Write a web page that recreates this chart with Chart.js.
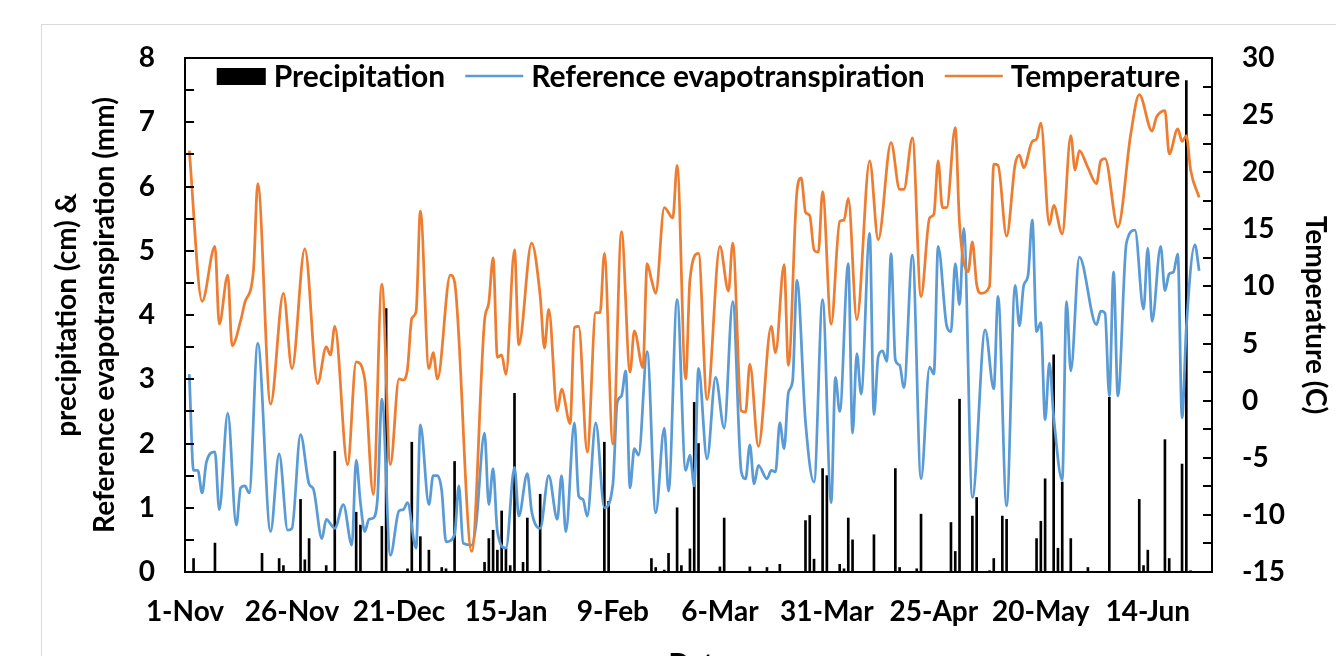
<!DOCTYPE html>
<html>
<head>
    <title>Precipitation, Reference Evapotranspiration and Temperature</title>
    <script src="https://cdn.jsdelivr.net/npm/chart.js"></script>
    <style>
        body { margin: 0; overflow: hidden; background: #fff; }
        #frame { position: absolute; left: 41px; top: 24px; width: 1400px; height: 700px; border: 1px solid #d9d9d9; }
        #weather-chart { position: absolute; left: 0; top: 0; }
    </style>
</head>
<body>
    <div id="frame"></div>
    <canvas id="weather-chart" width="1336" height="700"></canvas>

    <script>
        // Axis labels, one every 25 days counted from 1 Nov
        const tickDays = [0, 25, 50, 75, 100, 125, 150, 175, 200, 225];
        const tickLabels = ['1-Nov', '26-Nov', '21-Dec', '15-Jan', '9-Feb', '6-Mar', '31-Mar', '25-Apr', '20-May', '14-Jun'];

        // Reference evapotranspiration (mm), day number since 1 Nov
        const etDays = [
            1, 2, 3, 4, 5, 7, 8, 10, 12, 13,
            14, 15, 17, 20, 22, 24, 25, 27, 29, 30,
            32, 33, 35, 37, 39, 40, 41, 42, 43, 44,
            45, 46, 48, 50, 51, 52, 54, 55, 57, 58,
            59, 60, 61, 63, 64, 65, 67, 68, 70, 71,
            72, 73, 75, 77, 78, 80, 81, 83, 85, 87,
            88, 89, 91, 92, 93, 94, 96, 98, 100, 101,
            102, 103, 104, 105, 106, 108, 110, 112, 113, 115,
            117, 118, 119, 120, 122, 124, 126, 128, 130, 131,
            132, 133, 134, 136, 137, 138, 139, 140, 141, 142,
            143, 145, 147, 149, 151, 152, 153, 155, 156, 157,
            158, 160, 161, 162, 163, 164, 165, 166, 167, 168,
            170, 172, 174, 175, 176, 178, 179, 180, 181, 182,
            184, 187, 189, 190, 192, 194, 195, 196, 197, 198,
            199, 200, 201, 202, 203, 205, 206, 207, 209, 213,
            214, 215, 216, 217, 218, 220, 222, 224, 225, 226,
            228, 229, 230, 231, 232, 233, 234, 236, 237
        ];
        const etValues = [
            3.08, 1.58, 1.58, 1.23, 1.71, 1.87, 0.97, 2.47, 0.73, 1.31,
            1.34, 1.23, 3.56, 0.63, 1.84, 0.65, 0.68, 2.14, 1.37, 1.29,
            0.52, 0.82, 0.68, 1.05, 0.42, 1.74, 1.08, 0.63, 0.82, 0.84,
            1.16, 2.69, 0.26, 0.95, 0.97, 1.08, 0.37, 2.29, 1.05, 1.50,
            1.50, 1.26, 0.47, 0.58, 1.34, 0.45, 0.42, 0.73, 2.16, 1.05,
            1.61, 0.63, 0.37, 1.63, 0.87, 1.53, 0.95, 0.68, 1.50, 0.82,
            1.50, 0.63, 2.32, 1.18, 1.13, 0.87, 2.32, 1.00, 1.37, 2.64,
            2.74, 3.13, 1.31, 1.92, 1.82, 3.43, 0.92, 2.24, 1.26, 4.24,
            1.58, 1.82, 1.34, 3.17, 1.76, 3.03, 2.24, 4.21, 1.56, 1.45,
            1.98, 1.37, 1.66, 1.45, 1.58, 1.56, 2.32, 1.92, 2.79, 2.98,
            4.54, 2.34, 1.40, 4.24, 1.08, 3.03, 2.50, 4.80, 2.16, 3.40,
            2.77, 5.27, 2.45, 3.35, 3.44, 3.28, 4.95, 3.30, 3.22, 2.87,
            4.93, 1.45, 3.19, 3.08, 5.07, 3.83, 3.74, 4.80, 4.16, 5.35,
            1.16, 3.77, 2.85, 4.29, 1.03, 4.46, 3.83, 4.46, 4.61, 5.48,
            3.74, 3.88, 2.37, 3.25, 2.42, 1.43, 4.21, 3.13, 4.90, 3.85,
            4.06, 4.03, 2.74, 4.67, 2.74, 5.12, 5.32, 4.09, 5.04, 3.90,
            5.07, 4.38, 4.64, 4.67, 4.95, 2.40, 3.80, 5.09, 4.69
        ];

        // Air temperature (C)
        const tempDays = [
            1, 4, 7, 8, 10, 11, 13, 14, 16, 17,
            20, 23, 25, 28, 31, 33, 34, 35, 38, 40,
            42, 44, 46, 48, 50, 51, 52, 53, 54, 55,
            57, 58, 59, 62, 63, 67, 70, 71, 72, 73,
            74, 75, 77, 78, 81, 83, 84, 85, 87, 88,
            90, 91, 92, 94, 96, 97, 98, 100, 102, 104,
            105, 107, 108, 109, 110, 112, 114, 115, 117, 118,
            120, 122, 125, 127, 128, 130, 131, 132, 134, 137,
            138, 140, 141, 143, 144, 145, 146, 147, 148, 149,
            151, 153, 154, 155, 157, 160, 162, 165, 167, 168,
            170, 172, 174, 175, 176, 177, 178, 180, 181, 183,
            184, 185, 186, 188, 189, 190, 192, 194, 195, 196,
            198, 199, 200, 202, 203, 205, 207, 208, 209, 211,
            213, 214, 215, 218, 221, 223, 226, 227, 229, 230,
            232, 233, 234, 235, 237
        ];
        const tempValues = [
            21.9, 8.7, 13.5, 6.7, 11.0, 4.8, 7.0, 8.6, 11.4, 19.0,
            -0.3, 9.4, 2.8, 13.3, 1.5, 4.7, 4.0, 6.5, -5.6, 3.4,
            1.9, -8.2, 10.2, -5.6, 1.9, 1.8, 2.8, 7.2, 7.8, 16.6,
            2.8, 4.2, 1.9, 11.0, 10.4, -13.2, 7.0, 8.6, 12.5, 3.8,
            4.0, 2.3, 13.2, 4.9, 13.8, 9.2, 4.6, 8.0, -0.9, 1.0,
            -2.0, 6.4, 6.5, -4.5, 7.7, 7.7, 12.9, -3.8, 14.8, 2.5,
            6.1, 2.9, 12.0, 10.6, 9.4, 16.9, 16.0, 20.6, 1.9, 10.6,
            12.9, 0.1, 13.5, 9.6, 13.8, -0.9, -1.0, 3.2, -4.0, 6.5,
            4.2, 11.9, 3.1, 18.3, 19.5, 16.5, 16.2, 13.2, 13.0, 18.3,
            6.7, 15.7, 15.8, 17.7, 7.1, 21.0, 14.1, 22.6, 18.5, 18.5,
            23.0, 9.1, 16.0, 16.3, 21.0, 16.9, 16.9, 23.9, 15.5, 11.3,
            13.9, 10.2, 9.4, 10.0, 20.7, 20.6, 14.4, 20.7, 21.5, 20.4,
            22.7, 22.9, 24.3, 15.4, 17.1, 14.6, 23.2, 20.2, 21.9, 20.4,
            19.0, 21.0, 21.2, 15.2, 23.3, 26.8, 23.6, 24.8, 25.4, 21.6,
            23.8, 22.7, 23.2, 20.2, 17.8
        ];

        // Precipitation (cm), rain days only
        const rainDays = [
            2, 7, 18, 22, 23, 27, 28, 29, 33, 35,
            40, 41, 46, 47, 52, 53, 55, 57, 60, 61,
            63, 70, 71, 72, 73, 74, 75, 76, 77, 79,
            80, 83, 85, 98, 99, 109, 110, 112, 113, 115,
            116, 118, 119, 120, 125, 126, 132, 136, 139, 145,
            146, 147, 149, 150, 153, 154, 155, 156, 161, 166,
            167, 171, 172, 179, 180, 181, 184, 185, 188, 189,
            191, 192, 199, 200, 201, 203, 204, 205, 207, 211,
            216, 223, 224, 225, 229, 230, 233, 234, 235
        ];
        const rainValues = [
            0.21, 0.45, 0.29, 0.21, 0.10, 1.13, 0.19, 0.52, 0.10, 1.88,
            0.93, 0.73, 0.71, 4.10, 0.05, 2.02, 0.55, 0.34, 0.07, 0.05,
            1.72, 0.15, 0.52, 0.65, 0.34, 0.95, 0.37, 0.10, 2.78, 0.15,
            0.84, 1.21, 0.02, 2.02, 1.10, 0.21, 0.07, 0.03, 0.29, 1.00,
            0.10, 0.36, 2.64, 2.00, 0.08, 0.84, 0.08, 0.07, 0.12, 0.80,
            0.88, 0.20, 1.61, 1.50, 0.12, 0.05, 0.84, 0.50, 0.58, 1.61,
            0.07, 0.05, 0.90, 0.77, 0.32, 2.69, 0.87, 1.16, 0.02, 0.21,
            0.87, 0.82, 0.52, 0.79, 1.45, 3.38, 0.37, 1.40, 0.52, 0.07,
            2.72, 1.13, 0.10, 0.34, 2.06, 0.21, 1.68, 7.65, 0.02
        ];

        const FONT = 'Lato';
        const boldFont = { family: FONT, size: 28, weight: 'bold' };

        const toPoints = (days, values) => days.map((d, i) => ({ x: d, y: values[i] }));

        // Black frame round the plot with short inward ticks on both value axes
        const plotFrame = {
            id: 'plotFrame',
            afterDraw(chart) {
                const { ctx, chartArea: a, scales } = chart;
                ctx.save();
                ctx.strokeStyle = '#000';
                ctx.lineWidth = 2;
                ctx.strokeRect(a.left, a.top, a.right - a.left, a.bottom - a.top);
                ctx.beginPath();
                for (let v = 0; v <= 8; v += 0.5) {
                    const y = Math.round(scales.y.getPixelForValue(v));
                    ctx.moveTo(a.left, y);
                    ctx.lineTo(a.left + 9, y);
                }
                for (let v = -15; v <= 30; v += 2.5) {
                    const y = Math.round(scales.y1.getPixelForValue(v));
                    ctx.moveTo(a.right, y);
                    ctx.lineTo(a.right - 9, y);
                }
                ctx.stroke();
                ctx.restore();
            }
        };

        // Legend drawn across the top inside the plot area
        const insideLegend = {
            id: 'insideLegend',
            afterDraw(chart) {
                const { ctx, chartArea: a } = chart;
                const gap = 8, spacing = 20;
                ctx.save();
                ctx.font = 'bold 30px ' + FONT;
                ctx.textBaseline = 'middle';
                const items = chart.data.datasets.map(ds => {
                    const sampleW = ds.type === 'bar' ? 49 : 58;
                    return { ds: ds, sampleW: sampleW, w: sampleW + gap + ctx.measureText(ds.label).width };
                });
                const total = items.reduce((s, it) => s + it.w, 0) + spacing * (items.length - 1);
                let x = (a.left + a.right) / 2 - total / 2;
                const y = a.top + 18;
                items.forEach(it => {
                    if (it.ds.type === 'bar') {
                        ctx.fillStyle = it.ds.backgroundColor;
                        ctx.fillRect(x, y - 8, it.sampleW, 17);
                    } else {
                        ctx.strokeStyle = it.ds.borderColor;
                        ctx.lineWidth = 2.5;
                        ctx.beginPath();
                        ctx.moveTo(x, y);
                        ctx.lineTo(x + it.sampleW, y);
                        ctx.stroke();
                    }
                    ctx.fillStyle = '#000';
                    ctx.fillText(it.ds.label, x + it.sampleW + gap, y + 1);
                    x += it.w + spacing;
                });
                ctx.restore();
            }
        };

        const ctx = document.getElementById('weather-chart').getContext('2d');
        new Chart(ctx, {
            type: 'bar',
            data: {
                datasets: [{
                    type: 'bar',
                    label: 'Precipitation',
                    data: toPoints(rainDays, rainValues),
                    backgroundColor: '#000000',
                    barThickness: 2,
                    yAxisID: 'y',
                    order: 3
                }, {
                    type: 'line',
                    label: 'Reference evapotranspiration',
                    data: toPoints(etDays, etValues),
                    borderColor: '#5b9bd5',
                    borderWidth: 2.75,
                    pointRadius: 0,
                    cubicInterpolationMode: 'monotone',
                    yAxisID: 'y',
                    order: 2
                }, {
                    type: 'line',
                    label: 'Temperature',
                    data: toPoints(tempDays, tempValues),
                    borderColor: '#ed7d31',
                    borderWidth: 2.75,
                    pointRadius: 0,
                    cubicInterpolationMode: 'monotone',
                    yAxisID: 'y1',
                    order: 1
                }]
            },
            options: {
                responsive: false,
                animation: false,
                layout: { padding: { top: 58, left: 0, right: 0, bottom: 0 } },
                plugins: {
                    legend: { display: false },
                    tooltip: { enabled: false }
                },
                scales: {
                    x: {
                        type: 'linear',
                        min: 0,
                        max: 240,
                        offset: false,
                        grid: { display: false, drawTicks: false },
                        border: { display: false },
                        afterBuildTicks: axis => {
                            axis.ticks = tickDays.map(v => ({ value: v }));
                        },
                        afterFit: axis => { axis.height = 128; },
                        ticks: {
                            autoSkip: false,
                            maxRotation: 0,
                            padding: 23,
                            color: '#000',
                            font: boldFont,
                            callback: (value, index) => tickLabels[index]
                        },
                        title: {
                            display: true,
                            text: 'Date',
                            color: '#000',
                            font: boldFont,
                            padding: { top: 0, bottom: 18 }
                        }
                    },
                    y: {
                        position: 'left',
                        min: 0,
                        max: 8,
                        grid: { display: false, drawTicks: false },
                        border: { display: false },
                        afterFit: axis => { axis.width = 185; },
                        ticks: {
                            stepSize: 1,
                            padding: 30,
                            color: '#000',
                            font: boldFont
                        },
                        title: {
                            display: true,
                            text: ['precipitation (cm) &', 'Reference evapotranspiration (mm)'],
                            color: '#000',
                            font: { family: FONT, size: 28, weight: 'bold', lineHeight: 1.35 },
                            padding: { top: 48, bottom: 0 }
                        }
                    },
                    y1: {
                        position: 'right',
                        min: -15,
                        max: 30,
                        grid: { display: false, drawTicks: false },
                        border: { display: false },
                        afterFit: axis => { axis.width = 124; },
                        ticks: {
                            stepSize: 5,
                            padding: 30,
                            color: '#000',
                            font: boldFont
                        },
                        title: {
                            display: true,
                            text: 'Temperature (C)',
                            color: '#000',
                            font: boldFont,
                            padding: { top: 4, bottom: 0 }
                        }
                    }
                }
            },
            plugins: [plotFrame, insideLegend]
        });
    </script>
</body>
</html>
